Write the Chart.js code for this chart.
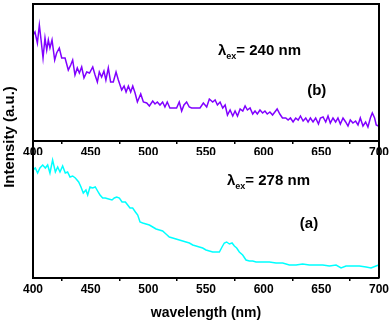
<!DOCTYPE html>
<html>
<head>
<meta charset="utf-8">
<script src="https://cdn.jsdelivr.net/npm/chart.js@4.4.1/dist/chart.umd.min.js"></script>
<style>
  html, body { margin: 0; padding: 0; background: #fff; }
  #wrap { position: relative; width: 392px; height: 325px; }
  #wrap canvas { position: absolute; left: 0; top: 0; }
</style>
</head>
<body>
<div id="wrap">
  <canvas id="graficoB" width="392" height="325"></canvas>
  <canvas id="graficoA" width="392" height="325"></canvas>
</div>
<script>
// espectro (b) - excitacion 240 nm
const longOndaB = [400, 401.7, 403.8, 405.5, 407, 408.7, 410.4, 411.9, 413.3, 414.7, 416.5, 418.8, 420.5, 422.8, 424.9, 427.8,
  430.6, 432.7, 434.4, 436.4, 438.4, 440.2, 442.2, 444.2, 446.6, 449, 451.8, 453.8, 455.8, 457.5, 459.5, 461.5, 463.2, 465.3,
  467.3, 469.6, 472, 474, 476.9, 479, 480.7, 482.7, 484.7, 486.5, 488.5, 490.5, 493.4, 495.7, 498.6, 500.9, 503.8, 505.8,
  507.8, 510.1, 512.4, 514.4, 516.4, 518.7, 521.6, 524.5, 526.8, 528.9, 530.9, 533.2, 535.5, 537.5, 540.4, 543.3, 544.8,
  547.7, 550.6, 552.9, 555.8, 557.9, 559.9, 562.2, 564.5, 566.6, 568.6, 570.9, 573.2, 575.2, 577.3, 579.6, 581.9, 583.9,
  585.9, 588.2, 590.5, 592.5, 594.5, 596.8, 599.1, 601.1, 603.1, 605.4, 607.7, 609.7, 611.7, 614, 616.3, 619.2, 621.2,
  623.2, 625.5, 627.8, 629.9, 631.9, 634.2, 636.5, 638.5, 640.5, 642.8, 645.1, 647.5, 649.2, 651.5, 653.8, 655.8, 657.8,
  660.1, 662.4, 664.4, 666.5, 668.8, 671.1, 673.1, 675.1, 677.4, 679.7, 681.8, 683.8, 686.1, 688.4, 690.4, 692.5, 694.2,
  696.2, 697.6, 699.5];
const intensidadB = [106, 109, 98, 116, 101, 83, 103, 91, 101, 93, 101, 81, 88, 93, 83, 83,
  71, 76, 81, 66, 73, 68, 74, 63, 69, 68, 74, 66, 59, 69, 64, 70, 61, 73,
  59, 59, 69, 61, 51, 55, 49, 55, 49, 55, 48, 39, 47, 39, 38, 35, 40, 37,
  39, 36, 39, 34, 39, 33, 33, 33, 39, 30, 36, 39, 34, 33, 33, 33, 33,
  38, 34, 42, 39, 41, 36, 39, 33, 36, 26, 31, 25, 30, 25, 32, 30, 35,
  31, 33, 27, 30, 27, 31, 28, 30, 27, 29, 26, 29, 32, 27, 23, 23, 21,
  23, 19, 23, 21, 25, 20, 23, 19, 23, 19, 23, 17, 23, 24, 19, 25, 18,
  23, 19, 23, 17, 23, 19, 15, 21, 18, 20, 16, 23, 15, 19, 14, 23, 28,
  23, 16, 15];

// espectro (a) - excitacion 278 nm
const longOndaA = [400, 402, 404, 406, 408.4, 410.7, 412.7, 414.7, 417, 419.4, 421.4, 423.4, 425.7, 428, 430, 432.1,
  434.4, 436.7, 439.6, 441.6, 443.6, 445.9, 447.4, 449.4, 451.7, 454, 456, 458.1, 460.4, 462.7, 465.6, 468.5, 470.5,
  472.6, 474.9, 477.2, 480.1, 482.1, 484.1, 486.4, 488.8, 490.8, 492.8, 495.1, 498, 500.9, 503.8, 506.7, 509.6, 512.4,
  515.3, 518.2, 521.1, 524, 526.9, 529.8, 532.7, 535.6, 538.5, 541.4, 544.2, 547.1, 550, 552.9, 555.8, 558.7, 561.6,
  563.9, 565.9, 567.9, 570.3, 572.6, 574.6, 576.6, 578.9, 581.8, 584.7, 587.6, 590.5, 593.4, 599.2, 605, 610.7, 616.5,
  622.3, 628.1, 633.8, 639.6, 645.4, 651.2, 657, 662.8, 667.1, 671.4, 677.2, 683, 688.8, 693.1, 697.4, 699.8];
const intensidadA = [108, 110, 105, 110, 113, 110, 113, 105, 118, 106, 111, 106, 112, 105, 106, 101,
  102, 100, 96, 91, 85, 88, 83, 91, 90, 91, 87, 83, 80, 80, 79, 78, 80,
  81, 80, 76, 76, 73, 70, 70, 66, 63, 56, 55, 54, 53, 51, 49, 48, 47,
  44, 41, 40, 39, 38, 37, 36, 35, 33, 32, 31, 30, 28, 27, 26, 26, 26,
  31, 35, 36, 34, 35, 32, 30, 26, 23, 18, 17, 17, 16, 16, 16, 15, 15,
  13, 13, 14, 13, 13, 13, 12, 13, 10, 12, 12, 12, 11, 10, 12, 13];

const ejeX = { min: 400, max: 700, paso: 25 };
const fuente = 'Liberation Sans, Arial, sans-serif';

let graficoB = null;

const opcionesX = (conTitulo, alto) => ({
  type: 'linear',
  min: ejeX.min,
  max: ejeX.max,
  afterFit: (s) => { s.height = alto; },
  border: { display: true, color: '#000', width: 2 },
  grid: {
    drawOnChartArea: false,
    drawTicks: true,
    tickLength: 3,
    lineWidth: 1.5,
    color: (c) => (c.tick && c.tick.value % 50 === 0) ? 'rgba(0,0,0,0)' : '#000'
  },
  ticks: {
    stepSize: ejeX.paso,
    autoSkip: false,
    maxRotation: 0,
    padding: 1,
    color: '#000',
    font: { family: fuente, size: 12, weight: 'bold' },
    callback: (v) => v % 50 === 0 ? String(v) : ''
  },
  title: {
    display: conTitulo,
    text: 'wavelength (nm)',
    color: '#000',
    font: { family: fuente, size: 14, weight: 'bold' },
    padding: { top: 0, bottom: 3 }
  }
});

// lambda_ex = xxx nm
const dibujarLambda = (chart, xv, yv, texto) => {
  const ctx = chart.ctx;
  let x = chart.scales.x.getPixelForValue(xv);
  const y = chart.scales.y.getPixelForValue(yv);
  ctx.save();
  ctx.fillStyle = '#000';
  ctx.textBaseline = 'alphabetic';
  ctx.textAlign = 'left';
  ctx.font = `bold 15px ${fuente}`;
  ctx.fillText('λ', x, y);
  x += ctx.measureText('λ').width;
  ctx.font = `bold 9px ${fuente}`;
  ctx.fillText('ex', x, y + 4);
  x += ctx.measureText('ex').width;
  ctx.font = `bold 15px ${fuente}`;
  ctx.fillText('= ' + texto, x, y);
  ctx.restore();
};

const dibujarEtiqueta = (chart, xv, yv, texto) => {
  const ctx = chart.ctx;
  ctx.save();
  ctx.fillStyle = '#000';
  ctx.font = `bold 15px ${fuente}`;
  ctx.textAlign = 'center';
  ctx.textBaseline = 'middle';
  ctx.fillText(texto, chart.scales.x.getPixelForValue(xv), chart.scales.y.getPixelForValue(yv));
  ctx.restore();
};

const marcoB = {
  id: 'marcoB',
  afterDraw: (chart) => {
    const { left, right, top } = chart.chartArea;
    const abajo = chart.scales.x.bottom;
    const ctx = chart.ctx;
    ctx.save();
    ctx.strokeStyle = '#000';
    ctx.lineWidth = 2;
    ctx.lineCap = 'square';
    ctx.beginPath();
    ctx.moveTo(left, abajo);
    ctx.lineTo(left, top);
    ctx.lineTo(right, top);
    ctx.lineTo(right, abajo);
    ctx.stroke();
    ctx.restore();
    dibujarLambda(chart, 560.4, 86, '240 nm');
    dibujarEtiqueta(chart, 646, 50, '(b)');
  }
};

const marcoA = {
  id: 'marcoA',
  afterDraw: (chart) => {
    const { left, right, top, bottom } = chart.chartArea;
    const ctx = chart.ctx;
    ctx.save();
    ctx.strokeStyle = '#000';
    ctx.lineWidth = 2;
    ctx.beginPath();
    ctx.moveTo(left, top);
    ctx.lineTo(left, bottom);
    ctx.moveTo(right, top);
    ctx.lineTo(right, bottom);
    ctx.stroke();
    // titulo del eje y, comun a los dos paneles
    const arriba = graficoB ? graficoB.chartArea.top : 4;
    ctx.translate(10, (arriba + bottom) / 2 - 4);
    ctx.rotate(-Math.PI / 2);
    ctx.fillStyle = '#000';
    ctx.font = `bold 15px ${fuente}`;
    ctx.textAlign = 'center';
    ctx.textBaseline = 'middle';
    ctx.fillText('Intensity (a.u.)', 0, 0);
    ctx.restore();
    dibujarLambda(chart, 568.2, 93, '278 nm');
    dibujarEtiqueta(chart, 639.3, 54, '(a)');
  }
};

const cargarGraficos = () => {
  graficoB = new Chart(document.getElementById('graficoB').getContext('2d'), {
    type: 'line',
    data: {
      datasets: [{
        label: '(b)',
        data: longOndaB.map((w, i) => ({ x: w, y: intensidadB[i] })),
        borderColor: '#8000ff',
        borderWidth: 1.5,
        pointRadius: 0,
        fill: false
      }]
    },
    options: {
      responsive: false,
      animation: false,
      layout: { padding: { left: 33, right: 13, top: 4, bottom: 170 } },
      plugins: { legend: { display: false }, tooltip: { enabled: false } },
      scales: {
        x: opcionesX(false, 14),
        y: { display: false, min: 0, max: 137 }
      }
    },
    plugins: [marcoB]
  });

  new Chart(document.getElementById('graficoA').getContext('2d'), {
    type: 'line',
    data: {
      datasets: [{
        label: '(a)',
        data: longOndaA.map((w, i) => ({ x: w, y: intensidadA[i] })),
        borderColor: '#00ffff',
        borderWidth: 1.5,
        pointRadius: 0,
        fill: false
      }]
    },
    options: {
      responsive: false,
      animation: false,
      layout: { padding: { left: 33, right: 13, top: 155, bottom: 0 } },
      plugins: { legend: { display: false }, tooltip: { enabled: false } },
      scales: {
        x: opcionesX(true, 47),
        y: { display: false, min: 0, max: 123 }
      }
    },
    plugins: [marcoA]
  });
};

window.addEventListener('DOMContentLoaded', cargarGraficos);
</script>
</body>
</html>
